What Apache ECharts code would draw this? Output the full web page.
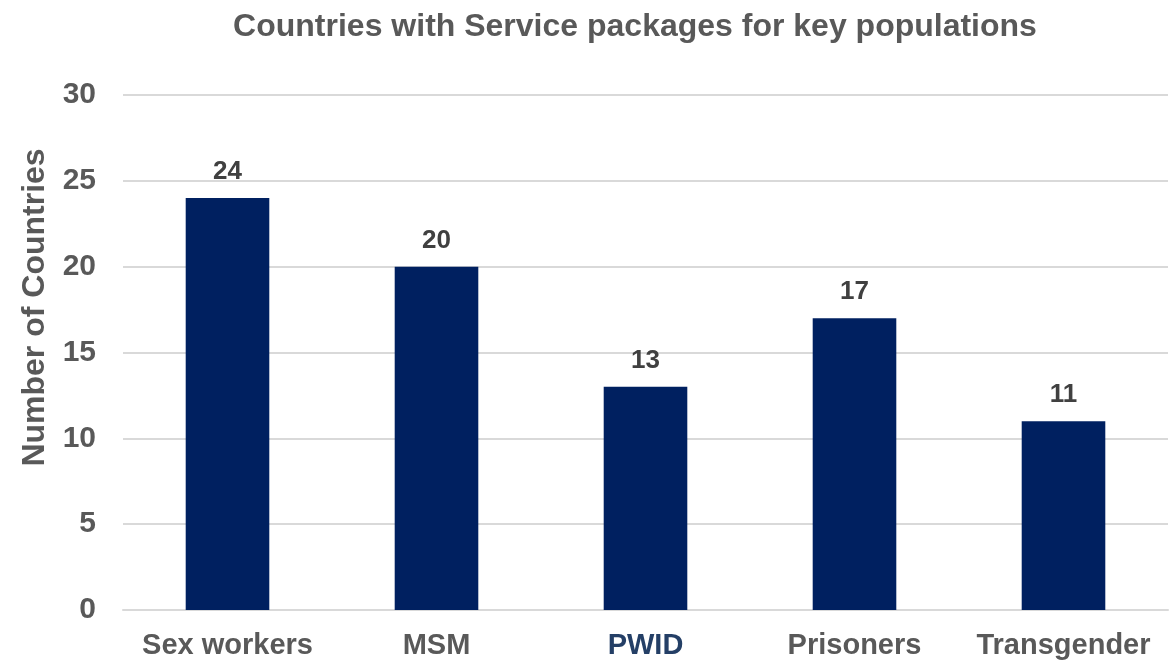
<!DOCTYPE html>
<html>
<head>
<meta charset="utf-8">
<script src="https://cdn.jsdelivr.net/npm/echarts@6/dist/echarts.min.js"></script>
<style>
  html, body { margin: 0; padding: 0; background: #ffffff; }
  #chart { width: 1173px; height: 662px; }
</style>
</head>
<body>
<div id="chart"></div>
<script>
// Key population groups and the number of countries with service packages for each
const categories = ['Sex workers', 'MSM', 'PWID', 'Prisoners', 'Transgender'];
const countryCounts = [24, 20, 13, 17, 11];
const yTicks = { min: 0, max: 30, interval: 5 };

const FONT = 'Liberation Sans, Arial, sans-serif';
const chart = echarts.init(document.getElementById('chart'));

chart.setOption({
  animation: false,
  title: {
    text: 'Countries with Service packages for key populations',
    left: 630,
    textAlign: 'center',
    top: 6,
    textStyle: {
      fontFamily: FONT,
      fontSize: 32,
      fontWeight: 'bold',
      color: '#595959'
    }
  },
  grid: { left: 123, right: 5, top: 95, bottom: 52 },
  xAxis: {
    type: 'category',
    data: categories,
    axisLine: { lineStyle: { color: '#d9d9d9', width: 2 } },
    axisTick: { show: false },
    axisLabel: {
      interval: 0,
      hideOverlap: false,
      margin: 21,
      fontFamily: FONT,
      fontSize: 29,
      fontWeight: 'bold',
      color: function (value) {
        return value === 'PWID' ? '#243f66' : '#595959';
      }
    }
  },
  yAxis: {
    type: 'value',
    min: yTicks.min,
    max: yTicks.max,
    interval: yTicks.interval,
    name: 'Number of Countries',
    nameLocation: 'middle',
    nameGap: 72,
    nameTextStyle: {
      fontFamily: FONT,
      fontSize: 32,
      fontWeight: 'bold',
      color: '#595959',
      padding: [0, 0, 0, 90]
    },
    axisLine: { show: false },
    axisTick: { show: false },
    splitLine: { lineStyle: { color: '#d9d9d9', width: 2 } },
    axisLabel: {
      margin: 27,
      fontFamily: FONT,
      fontSize: 30,
      fontWeight: 'bold',
      color: '#595959'
    }
  },
  series: [{
    type: 'bar',
    data: countryCounts,
    barWidth: '40%',
    itemStyle: { color: '#002060' },
    label: {
      show: true,
      position: 'top',
      distance: 13,
      fontFamily: FONT,
      fontSize: 26,
      fontWeight: 'bold',
      color: '#404040'
    }
  }]
});
</script>
</body>
</html>
